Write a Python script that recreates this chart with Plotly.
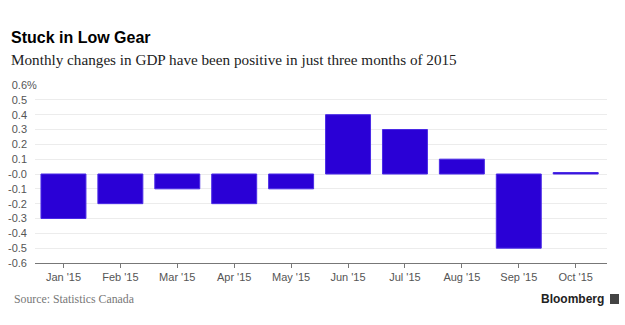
import plotly.graph_objects as go

months = ["Jan '15", "Feb '15", "Mar '15", "Apr '15", "May '15",
          "Jun '15", "Jul '15", "Aug '15", "Sep '15", "Oct '15"]
gdp_change = [-0.3, -0.2, -0.1, -0.2, -0.1, 0.4, 0.3, 0.1, -0.5, 0.01]
ytick_vals = [0.6, 0.5, 0.4, 0.3, 0.2, 0.1, 0.0, -0.1, -0.2, -0.3, -0.4, -0.5, -0.6]
ytick_text = ["0.6", "0.5", "0.4", "0.3", "0.2", "0.1", "-0.0", "-0.1", "-0.2",
              "-0.3", "-0.4", "-0.5", "-0.6"]

L, R, T, B = 35, 18, 85, 62
W, H = 625, 325

fig = go.Figure(go.Bar(
    x=list(range(len(months))), y=gdp_change,
    marker=dict(color="#2a00d6", line=dict(color="#4a2ae6", width=1)),
    width=0.79,
))

fig.update_layout(
    width=W, height=H,
    margin=dict(l=L, r=R, t=T, b=B),
    plot_bgcolor="white", paper_bgcolor="white",
    showlegend=False,
    font=dict(family="Liberation Sans, Arial, sans-serif", size=11, color="#555"),
    xaxis=dict(
        range=[-0.5, 9.55], automargin=False,
        tickvals=list(range(len(months))), ticktext=months,
        showgrid=False, zeroline=False,
        showline=True, linecolor="#777", linewidth=1,
        ticks="outside", ticklen=4, tickcolor="#777",
        tickfont=dict(size=11, color="#555"),
    ),
    yaxis=dict(
        range=[-0.6, 0.6], automargin=False,
        tickvals=ytick_vals, ticktext=ytick_text,
        showgrid=True, gridcolor="#ececec", gridwidth=1,
        zeroline=False, showline=False, ticks="",
        tickfont=dict(size=11, color="#555"),
        ticklabelstandoff=7,
    ),
)


def px(x, y):
    return dict(xref="paper", yref="paper",
                x=(x - L) / (W - L - R), y=(H - B - y) / (H - T - B))


fig.add_annotation(text="<b>Stuck in Low Gear</b>", showarrow=False,
                   xanchor="left", yanchor="middle",
                   font=dict(family="Liberation Sans, Arial, sans-serif", size=16, color="#000"),
                   **px(9, 38))
fig.add_annotation(text="Monthly changes in GDP have been positive in just three months of 2015",
                   showarrow=False, xanchor="left", yanchor="middle",
                   font=dict(family="Liberation Serif, serif", size=15.2, color="#222"),
                   **px(9, 59))
fig.add_annotation(text="%", showarrow=False, xanchor="left", yanchor="middle",
                   font=dict(size=11, color="#555"), **px(25, 85))
fig.add_annotation(text="Source: Statistics Canada", showarrow=False,
                   xanchor="left", yanchor="middle",
                   font=dict(family="Liberation Serif, serif", size=11.8, color="#777"),
                   **px(12, 299))
fig.add_annotation(text="<b>Bloomberg</b>", showarrow=False,
                   xanchor="right", yanchor="middle",
                   font=dict(family="Liberation Sans, Arial, sans-serif", size=12, color="#222"),
                   **px(606, 299))
fig.add_shape(type="rect", xref="paper", yref="paper",
              x0=(610 - L) / (W - L - R), x1=(619 - L) / (W - L - R),
              y0=(H - B - 304) / (H - T - B), y1=(H - B - 294) / (H - T - B),
              fillcolor="#444", line=dict(width=0))

fig.write_html("out.html")
